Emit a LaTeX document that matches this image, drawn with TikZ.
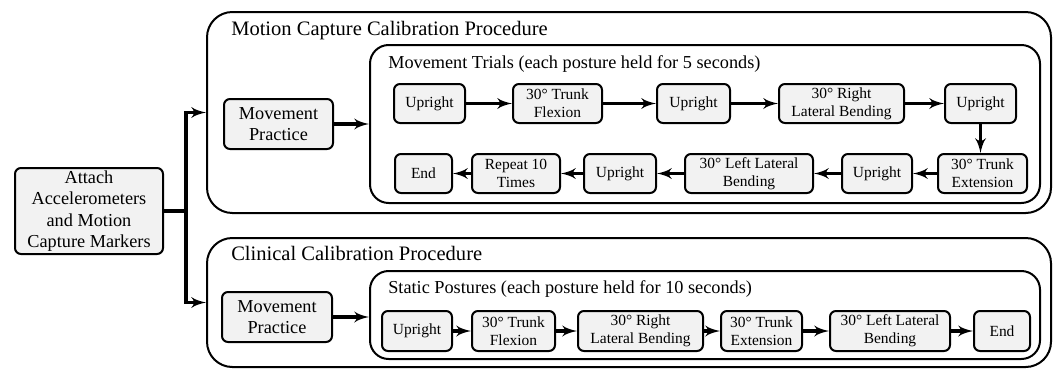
\documentclass[tikz,border=0pt]{standalone}
\usepackage{fontspec}
\setmainfont{LiberationSerif}[
  Extension      = .ttf,
  UprightFont    = *-Regular,
  BoldFont       = *-Bold,
  ItalicFont     = *-Italic,
  BoldItalicFont = *-BoldItalic]
\usetikzlibrary{arrows,positioning}

\newlength{\px}\setlength{\px}{0.75pt}
\definecolor{boxfill}{HTML}{F2F2F2}
\newcommand{\procfont}{\fontsize{15.4}{18}\selectfont}
\newcommand{\stagefont}{\fontsize{13.7}{16}\selectfont}
\newcommand{\posefont}{\fontsize{11.6}{13.5}\selectfont}

\tikzset{
  posture/.style = {draw, line width=1.5pt, rounded corners=4.5pt, fill=boxfill,
                    align=center, inner sep=0pt, minimum height=39\px, font=\posefont},
  bigbox/.style  = {posture, font=\stagefont},
  procbox/.style = {draw, line width=1.5pt, rounded corners=19pt, inner sep=0pt},
  stagebox/.style= {procbox, rounded corners=14pt},
  heading/.style = {anchor=base west, inner sep=0pt},
  arr/.style     = {-latex', line width=2.8pt}
}

\begin{document}
\begin{tikzpicture}[x=0.75pt, y=-0.75pt]
\useasboundingbox (0,0) rectangle (1056,368);

% frames
\node (mc) [procbox, minimum width=844\px, minimum height=201\px] at (629,112.5) {};
\node (cc) [procbox, minimum width=844\px, minimum height=129\px] at (629,302.5) {};
\node (trials) [stagebox, minimum width=670\px, minimum height=158\px] at (705,124) {};
\node (static) [stagebox, minimum width=670\px, minimum height=88\px]  at (705,315) {};

\node (mctitle) [heading, font=\procfont]  at (231,35)  {Motion Capture Calibration Procedure};
\node (cctitle) [heading, font=\procfont]  at (231,260) {Clinical Calibration Procedure};
\node (trtitle) [heading, font=\stagefont] at (388,68)  {Movement Trials (each posture held for 5 seconds)};
\node (sttitle) [heading, font=\stagefont] at (388,293) {Static Postures (each posture held for 10 seconds)};

%
\node (att) [bigbox, minimum width=148\px, minimum height=86\px] at (89,211)
      {Attach\\Accelerometers\\and Motion\\Capture Markers};
\node (mp1) [bigbox, minimum width=109\px, minimum height=50\px] at (278.5,124) {Movement\\Practice};
\node (mp2) [bigbox, minimum width=110\px, minimum height=50\px] at (277,317)   {Movement\\Practice};

% movement trials, first row
\node (u1) [posture, minimum width=71\px]  at (429.5,103.5) {Upright};
\node (tf) [posture, minimum width=89\px]  at (557.5,103.5) {30° Trunk\\Flexion};
\node (u2) [posture, minimum width=73\px]  at (693.5,103.5) {Upright};
\node (rb) [posture, minimum width=125\px] at (841.5,103.5) {30° Right\\Lateral Bending};
\node (u3) [posture, minimum width=71\px]  at (980.5,103.5) {Upright};
% second row, right to left
\node (te) [posture, minimum width=89\px]  at (982.5,173.5) {30° Trunk\\Extension};
\node (u4) [posture, minimum width=70\px]  at (877,173.5)   {Upright};
\node (lb) [posture, minimum width=128\px] at (749,173.5)   {30° Left Lateral\\Bending};
\node (u5) [posture, minimum width=72\px]  at (620,173.5)   {Upright};
\node (rp) [posture, minimum width=88\px]  at (516,173.5)   {Repeat 10\\Times};
\node (en) [posture, minimum width=57\px]  at (423.5,173.5) {End};

% static postures
\node (su) [posture, minimum width=70\px, minimum height=40\px]  at (417,331)   {Upright};
\node (sf) [posture, minimum width=83\px, minimum height=40\px]  at (513.5,331) {30° Trunk\\Flexion};
\node (sr) [posture, minimum width=125\px, minimum height=40\px] at (640.5,331) {30° Right\\Lateral Bending};
\node (se) [posture, minimum width=81\px, minimum height=40\px]  at (761.5,331) {30° Trunk\\Extension};
\node (sl) [posture, minimum width=120\px, minimum height=40\px] at (890,331)   {30° Left Lateral\\Bending};
\node (sd) [posture, minimum width=56\px, minimum height=40\px]  at (1002,331)  {End};

%
\coordinate[right=16.5pt of att.east] (split);
\draw[line width=2.8pt] (att.east) -- (split);
\draw[arr] (split) |- (mc.west);
\draw[arr] (split) |- (cc.west);

\draw[arr] (mp1) -- (mp1 -| trials.west);
\draw[arr] (mp2) -- (mp2 -| static.west);

\foreach \a/\b in {u1/tf, tf/u2, u2/rb, rb/u3, te/u4, u4/lb, lb/u5, u5/rp, rp/en,
                   su/sf, sf/sr, sr/se, se/sl, sl/sd}
    \draw[arr] (\a) -- (\b);
\draw[arr] (u3) -- (u3 |- te.north);
\end{tikzpicture}
\end{document}
